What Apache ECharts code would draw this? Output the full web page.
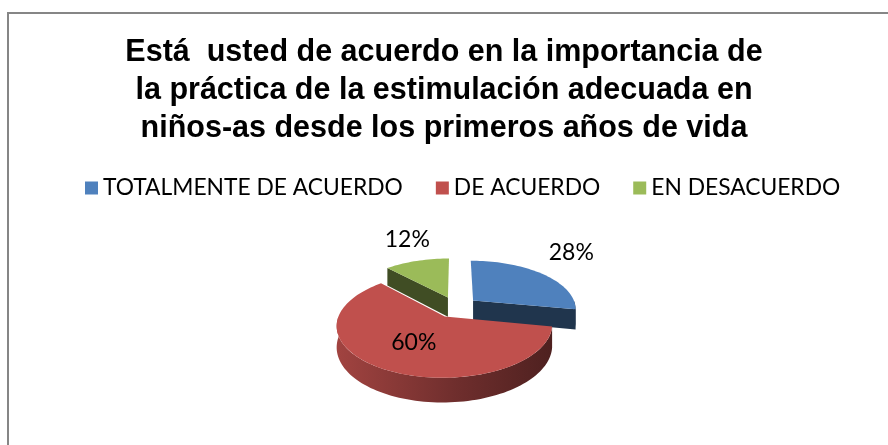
<!DOCTYPE html>
<html lang="es">
<head>
    <meta charset="UTF-8">
    <title>Estimulación adecuada</title>
    <style>
        html, body {
            margin: 0;
            padding: 0;
            background: #fff;
        }
        #chart {
            width: 888px;
            height: 445px;
        }
    </style>
    <script src="https://cdn.jsdelivr.net/npm/echarts/dist/echarts.min.js"></script>
</head>
<body>
    <div id="chart"></div>
    <script>
        // datos
        var categories = ['TOTALMENTE DE ACUERDO', 'DE ACUERDO', 'EN DESACUERDO'];
        var values = [28, 60, 12];
        var colors = ['#4F81BD', '#C0504D', '#9BBB59'];

        var titleText = 'Está  usted de acuerdo en la importancia de\n' +
            'la práctica de la estimulación adecuada en\n' +
            'niños-as desde los primeros años de vida';

        // geometria del pastel 3D (perspectiva simple)
        var pie = { cx: 456, cy: 307, rx: 103, ry: 48, persp: 0.16, depth: 20, explode: 0.22 };
        var total = values.reduce(function (s, v) { return s + v; }, 0);

        function shade(hex, f) {
            var n = parseInt(hex.slice(1), 16);
            var r = Math.round(((n >> 16) & 255) * f);
            var g = Math.round(((n >> 8) & 255) * f);
            var b = Math.round((n & 255) * f);
            return 'rgb(' + r + ',' + g + ',' + b + ')';
        }

        function project(X, Z, drop) {
            var w = 1 + pie.persp * Z;
            return [pie.cx + pie.rx * X / w, pie.cy + (-pie.ry * Z + drop) / w];
        }

        function rad(a) { return a * Math.PI / 180; }

        function arcPts(o, a0, a1, drop) {
            var pts = [];
            var n = Math.max(2, Math.ceil((a1 - a0) / 2));
            for (var k = 0; k <= n; k++) {
                var a = rad(a0 + (a1 - a0) * k / n);
                pts.push(project(o[0] + Math.sin(a), o[1] + Math.cos(a), drop));
            }
            return pts;
        }

        function sliceAngles(i, v) {
            var before = 0;
            for (var j = 0; j < i; j++) before += values[j];
            var a0 = before / total * 360;
            return [a0, a0 + v / total * 360];
        }

        function makeRender(i) {
            return function (params, api) {
                var v = api.value(0);
                var ang = sliceAngles(i, v);
                var a0 = ang[0], a1 = ang[1];
                var m = rad((a0 + a1) / 2);
                var o = [pie.explode * Math.sin(m), pie.explode * Math.cos(m)];
                var color = colors[i];
                var children = [];
                var sideFill = new echarts.graphic.LinearGradient(pie.cx - pie.rx * 1.2, 0, pie.cx + pie.rx * 1.2, 0, [
                    { offset: 0, color: shade(color, 0.85) },
                    { offset: 0.5, color: shade(color, 0.58) },
                    { offset: 1, color: shade(color, 0.36) }
                ], true);

                // pared exterior (solo parte frontal)
                var s0 = Math.max(a0, 90), s1 = Math.min(a1, 270);
                if (s1 > s0) {
                    var topEdge = arcPts(o, s0, s1, 0);
                    var botEdge = arcPts(o, s0, s1, pie.depth).reverse();
                    children.push({
                        type: 'polygon',
                        shape: { points: topEdge.concat(botEdge) },
                        style: { fill: sideFill }
                    });
                }

                // caras de corte
                var tipT = project(o[0], o[1], 0), tipB = project(o[0], o[1], pie.depth);
                [[a0, a0 - 90], [a1, a1 + 90]].forEach(function (e) {
                    if (Math.cos(rad(e[1])) < -0.01) {
                        var a = rad(e[0]);
                        var X = o[0] + Math.sin(a), Z = o[1] + Math.cos(a);
                        children.push({
                            type: 'polygon',
                            shape: { points: [tipT, project(X, Z, 0), project(X, Z, pie.depth), tipB] },
                            style: { fill: shade(color, 0.41) }
                        });
                    }
                });

                // cara superior
                children.push({
                    type: 'polygon',
                    shape: { points: [tipT].concat(arcPts(o, a0, a1, 0)) },
                    style: { fill: color }
                });

                // etiqueta: dentro si es grande, si no fuera del borde
                var share = v / total;
                var lp;
                if (share >= 0.5) {
                    lp = project(0.76 * Math.sin(m), 0.76 * Math.cos(m), 0);
                } else {
                    var r = 1 + pie.explode;
                    var ep = project(r * Math.sin(m), r * Math.cos(m), 0);
                    lp = [ep[0] + 34 * Math.sin(m) + 3, ep[1] - 21];
                }
                children.push({
                    type: 'text',
                    style: {
                        text: Math.round(share * 100) + '%',
                        x: lp[0],
                        y: lp[1],
                        align: 'center',
                        verticalAlign: 'middle',
                        fontFamily: 'Lato',
                        fontSize: 23,
                        fill: '#000'
                    }
                });

                return { type: 'group', children: children };
            };
        }

        var series = categories.map(function (name, i) {
            var ang = sliceAngles(i, values[i]);
            var m = rad((ang[0] + ang[1]) / 2);
            return {
                name: name,
                type: 'custom',
                coordinateSystem: 'none',
                z: 2 + Math.round((1 - Math.cos(m)) * 10),
                itemStyle: { color: colors[i] },
                renderItem: makeRender(i),
                data: [[values[i]]]
            };
        });

        var chart = echarts.init(document.getElementById('chart'));
        chart.setOption({
            animation: false,
            color: colors,
            title: {
                text: titleText,
                left: 'center',
                top: 34,
                padding: 0,
                textStyle: {
                    fontFamily: 'Liberation Sans',
                    fontWeight: 'bold',
                    fontSize: 30.5,
                    lineHeight: 38,
                    color: '#000'
                }
            },
            legend: {
                data: categories,
                left: 85,
                top: 175,
                padding: 0,
                icon: 'rect',
                itemWidth: 13,
                itemHeight: 13,
                itemGap: 33,
                textStyle: { fontFamily: 'Lato', fontSize: 22.8, color: '#000', lineHeight: 26 }
            },
            graphic: [{
                type: 'rect',
                silent: true,
                shape: { x: 8, y: 13, width: 900, height: 460 },
                style: { fill: 'none', stroke: '#868686', lineWidth: 2 }
            }],
            series: series
        });
    </script>
</body>
</html>
